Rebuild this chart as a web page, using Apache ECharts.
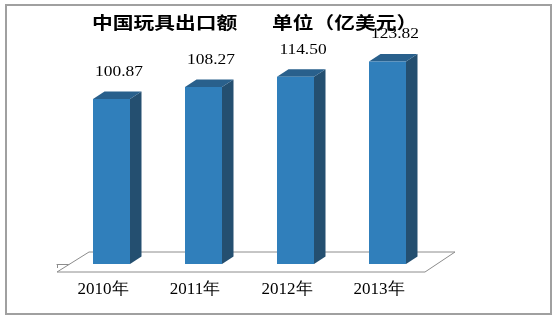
<!DOCTYPE html>
<html>
<head>
<meta charset="utf-8">
<script src="https://cdn.jsdelivr.net/npm/echarts@6/dist/echarts.min.js"></script>
<style>
html,body{margin:0;padding:0;background:#fff;}
#chart{width:558px;height:319px;}
</style>
</head>
<body>
<div id="chart"></div>
<script>
const categories = ['2010年', '2011年', '2012年', '2013年'];
const values = [100.87, 108.27, 114.50, 123.82];
const valueLabels = ['100.87', '108.27', '114.50', '123.82'];
const titleMain = '中国玩具出口额';
const titleUnit = '单位（亿美元）';

const chart = echarts.init(document.getElementById('chart'), null, {renderer: 'canvas'});

const FRONT = '#307FBB', SIDE = '#244F70', TOP = '#29608C';
const BW = 37, SHIFT = -10, DX = 11.5, DY = -7.5;

function renderFloor(params, api) {
  const n = categories.length;
  const band = api.size([1, 0])[0];
  const p0 = api.coord([0, 0]);
  const p1 = api.coord([n - 1, 0]);
  const xl = p0[0] - band / 2, xr = p1[0] + band / 2;
  const yf = p0[1] + 8, yb = p0[1] - 12;
  return {
    type: 'polygon',
    shape: {points: [[xl, yf], [xr, yf], [xr + 30, yb], [xl + 32, yb]]},
    style: {fill: '#fff', stroke: '#8c8c8c', lineWidth: 1}
  };
}

function renderBar(params, api) {
  const idx = api.value(0), v = api.value(1);
  const base = api.coord([idx, 0]);
  const top = api.coord([idx, v]);
  const x0 = base[0] + SHIFT, x1 = x0 + BW;
  const yb = base[1], yt = top[1];
  return {
    type: 'group',
    children: [
      {type: 'polygon', shape: {points: [[x1, yt], [x1 + DX, yt + DY], [x1 + DX, yb + DY], [x1, yb]]}, style: {fill: SIDE}},
      {type: 'polygon', shape: {points: [[x0, yt], [x1, yt], [x1 + DX, yt + DY], [x0 + DX, yt + DY]]}, style: {fill: TOP}},
      {type: 'rect', shape: {x: x0, y: yt, width: BW, height: yb - yt}, style: {fill: FRONT}},
      {type: 'text', x: base[0] + 16, y: yt - 27, scaleX: 1.16,
        style: {text: valueLabels[params.dataIndex], align: 'center', verticalAlign: 'middle',
          font: '15px "Liberation Serif", "DejaVu Serif", serif', fill: '#000'}}
    ]
  };
}

const option = {
  backgroundColor: '#fff',
  animation: false,
  graphic: [
    {type: 'rect', shape: {x: 6, y: 5, width: 545, height: 309}, style: {fill: 'none', stroke: '#a0a0a0', lineWidth: 2}, z: 100},
    {type: 'text', x: 92, y: 23, scaleX: 1.22,
      style: {text: titleMain, align: 'left', verticalAlign: 'middle', font: 'bold 17px "Noto Sans CJK SC", sans-serif', fill: '#000'}},
    {type: 'text', x: 272, y: 23, scaleX: 1.22,
      style: {text: titleUnit, align: 'left', verticalAlign: 'middle', font: 'bold 17px "Noto Sans CJK SC", sans-serif', fill: '#000'}}
  ],
  grid: {left: 57, right: 133, top: 35, bottom: 55},
  xAxis: {
    type: 'category',
    data: categories,
    offset: 8,
    axisLine: {show: true, lineStyle: {color: '#8c8c8c', width: 1}},
    axisTick: {show: true, length: 4, lineStyle: {color: '#8c8c8c'}},
    axisLabel: {margin: 9, color: '#000', fontFamily: '"Liberation Serif", serif', fontSize: 17},
    splitLine: {show: false}
  },
  yAxis: {type: 'value', min: 0, max: 140, show: false, splitLine: {show: false}},
  series: [
    {type: 'custom', data: [[0, 0]], renderItem: renderFloor, silent: true, z: 1},
    {type: 'custom', data: values.map((v, i) => [i, v]), renderItem: renderBar, z: 3}
  ]
};
chart.setOption(option);
</script>
</body>
</html>
